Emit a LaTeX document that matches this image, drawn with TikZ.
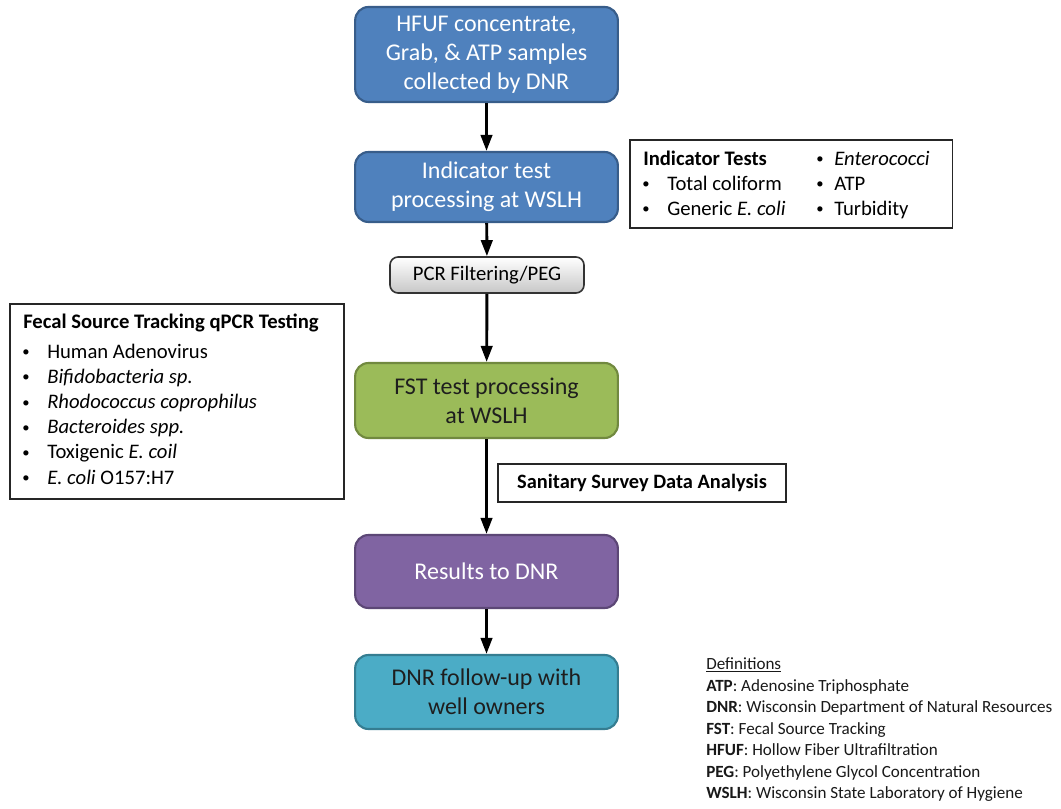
\documentclass[tikz,border=0pt]{standalone}
\usepackage{fontspec}
\setmainfont{Carlito}
\usetikzlibrary{arrows.meta}
\definecolor{bluefill}{HTML}{4F81BD}
\definecolor{blueline}{HTML}{385D8A}
\definecolor{greenfill}{HTML}{9BBB59}
\definecolor{greenline}{HTML}{71893F}
\definecolor{purplefill}{HTML}{8064A2}
\definecolor{purpleline}{HTML}{5C4776}
\definecolor{cyanfill}{HTML}{4BACC6}
\definecolor{cyanline}{HTML}{357D91}
\definecolor{darktext}{HTML}{1E1E1E}
\begin{document}
\begin{tikzpicture}[x=0.75pt,y=-0.75pt,
  flowbox/.style={draw, rounded corners=10pt, line width=1.6pt, minimum width=197pt,
    align=center, inner sep=0pt, font=\fontsize{18}{21.75}\selectfont},
  bluebox/.style={flowbox, fill=bluefill, draw=blueline, text=white},
  greenbox/.style={flowbox, fill=greenfill, draw=greenline, text=darktext},
  purplebox/.style={flowbox, fill=purplefill, draw=purpleline, text=white},
  cyanbox/.style={flowbox, fill=cyanfill, draw=cyanline, text=darktext},
  graybox/.style={draw=black!80, rounded corners=6pt, line width=1.2pt, top color=white,
    bottom color=black!22, minimum width=145.5pt, minimum height=27pt, inner sep=0pt,
    font=\fontsize{15.5}{18}\selectfont},
  listbox/.style={draw=black!85, line width=1.3pt, fill=white, inner sep=0pt, anchor=north west},
  ln/.style={anchor=base west, inner sep=0pt, font=\fontsize{15.5}{18}\selectfont},
  bul/.style={anchor=base, inner sep=0pt, font=\fontsize{11}{12}\selectfont},
  defln/.style={anchor=base west, inner sep=0pt, font=\fontsize{12.8}{15}\selectfont, text=black!90},
  flow/.style={line width=2.2pt, -{Triangle[length=12pt,width=8.5pt]}}
]
\useasboundingbox (0,0) rectangle (1061,809);
\fill[white] (0,0) rectangle (1061,809);

% main flow
\node[bluebox, minimum height=71.25pt] (collect) at (486.5,54.5)
  {HFUF concentrate,\\Grab, \& ATP samples\\collected by DNR};
\node[bluebox, minimum height=52.5pt] (indicator) at (486.5,187)
  {Indicator test\\processing at WSLH};
\node[graybox] (pcr) at (487,275) {PCR Filtering/PEG};
\node[greenbox, minimum height=56.25pt] (fst) at (486.5,400.5)
  {FST test processing\\at WSLH};
\node[purplebox, minimum height=54.75pt] (results) at (486.5,571.5) {Results to DNR};
\node[cyanbox, minimum height=55.5pt] (followup) at (486.5,692)
  {DNR follow-up with\\well owners};

\draw[flow] (collect) -- (indicator);
\draw[flow] (indicator) -- (pcr);
\draw[flow] (pcr) -- (fst);
\draw[flow] (fst) -- (results);
\draw[flow] (results) -- (followup);

% indicator tests box
\node[listbox, minimum width=242pt, minimum height=66pt] (indbox) at (629,139) {};
\node[ln] (indtitle) at (643,166) {\textbf{Indicator Tests}};
\node[bul] (indb1) at (646,189) {\textbullet};
\node[ln] (indt1) at (667,191) {Total coliform};
\node[bul] (indb2) at (646,214) {\textbullet};
\node[ln] (indt2) at (667,216) {Generic \textit{E. coli}};
\node[bul] (indb3) at (820,164) {\textbullet};
\node[ln] (indt3) at (834,166) {\textit{Enterococci}};
\node[bul] (indb4) at (820,189) {\textbullet};
\node[ln] (indt4) at (834,191) {ATP};
\node[bul] (indb5) at (820,214) {\textbullet};
\node[ln] (indt5) at (834,216) {Turbidity};

% fecal source tracking box
\node[listbox, minimum width=250.5pt, minimum height=146.25pt] (fstbox) at (9,303) {};
\node[ln] (fsttitle) at (23,329) {\textbf{Fecal Source Tracking qPCR Testing}};
\foreach \i/\t in {1/Human Adenovirus,2/\textit{Bifidobacteria sp.},3/\textit{Rhodococcus coprophilus},
                   4/\textit{Bacteroides spp.},5/Toxigenic \textit{E. coil},6/\textit{E. coli} O157:H7}{
  \node[bul] (fstb\i) at (26,332+25*\i) {\textbullet};
  \node[ln] (fstt\i) at (47,334+25*\i) {\t};
}

% sanitary survey box
\node[draw=black!85, line width=1.3pt, fill=white, minimum width=216pt, minimum height=28.5pt,
  inner sep=0pt, font=\fontsize{15.3}{18}\selectfont\bfseries] (sanitary) at (642,483)
  {Sanitary Survey Data Analysis};

% definitions
\node[defln] (def0) at (706,669.5) {\underline{Definitions}};
\node[defln] (def1) at (706,691) {\textbf{ATP}: Adenosine Triphosphate};
\node[defln] (def2) at (706,712.5) {\textbf{DNR}: Wisconsin Department of Natural Resources};
\node[defln] (def3) at (706,734) {\textbf{FST}: Fecal Source Tracking};
\node[defln] (def4) at (706,755.5) {\textbf{HFUF}: Hollow Fiber Ultrafiltration};
\node[defln] (def5) at (706,777) {\textbf{PEG}: Polyethylene Glycol Concentration};
\node[defln] (def6) at (706,798.5) {\textbf{WSLH}: Wisconsin State Laboratory of Hygiene};
\end{tikzpicture}
\end{document}
